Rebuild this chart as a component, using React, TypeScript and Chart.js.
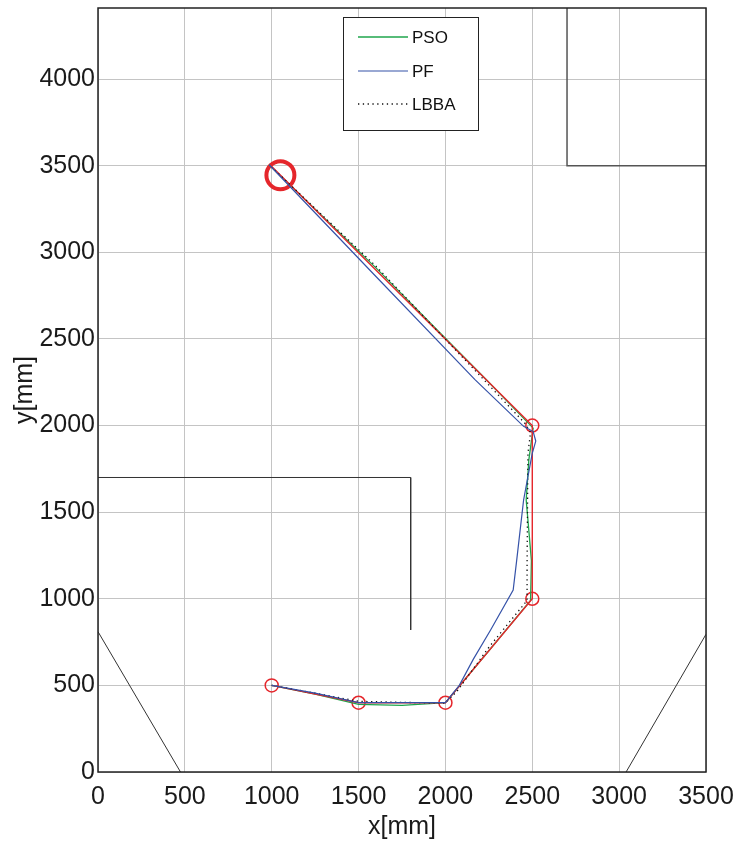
import React, { useEffect, useRef } from "react";
import { Chart, registerables } from "chart.js";

Chart.register(...registerables);

// Axis ticks
const xTicks = [0, 500, 1000, 1500, 2000, 2500, 3000, 3500];
const yTicks = [0, 500, 1000, 1500, 2000, 2500, 3000, 3500, 4000];
const X_MIN = 0;
const X_MAX = 3500;
const Y_MIN = 0;
const Y_MAX = 4410;

// Reference path (red) with waypoints
const refX = [1000, 1500, 2000, 2500, 2500, 990];
const refY = [500, 400, 400, 1000, 2000, 3505];
const waypointX = [1000, 1500, 2000, 2500, 2500];
const waypointY = [500, 400, 400, 1000, 2000];
const startX = [1050];
const startY = [3445];

// PSO (green)
const psoX = [1000, 1250, 1500, 1750, 2000, 2250, 2490, 2495, 2465, 2480, 2505, 2230, 1600, 985];
const psoY = [500, 450, 390, 385, 400, 700, 990, 1220, 1570, 1800, 1985, 2270, 2910, 3505];

// PF (blue)
const pfX = [1000, 1250, 1500, 1750, 2000, 2080, 2160, 2260, 2390, 2410, 2450, 2500, 2520, 2505, 2450, 2170, 1600, 985];
const pfY = [500, 455, 400, 400, 400, 500, 650, 820, 1050, 1220, 1570, 1840, 1910, 1965, 1995, 2265, 2860, 3505];

// LBBA (black dotted)
const lbbaX = [1000, 1250, 1500, 1750, 2000, 2070, 2250, 2470, 2470, 2475, 2490, 2460, 2230, 1600, 985];
const lbbaY = [500, 455, 408, 402, 398, 470, 720, 990, 1200, 1840, 1960, 2010, 2255, 2920, 3505];

// Obstacles / walls
const wallAX = [0, 1800, 1800];
const wallAY = [1700, 1700, 820];
const wallBX = [2700, 2700, 3500];
const wallBY = [4410, 3500, 3500];
const wallCX = [0, 475];
const wallCY = [810, 0];
const wallDX = [3040, 3500];
const wallDY = [0, 795];

// Legend order
const legendOrder = ["PSO", "PF", "LBBA"];

const pts = (xs: number[], ys: number[]) => xs.map((x, i) => ({ x, y: ys[i] }));

const FONT = "'Liberation Sans', Arial, Helvetica, sans-serif";

const GREEN = "#1fa64c";
const BLUE = "#3552a8";
const RED = "#e5262b";
const WALL = "#333333";

export default function App() {
  const ref = useRef<HTMLCanvasElement | null>(null);

  useEffect(() => {
    if (!ref.current) return;

    const boxPlugin = {
      id: "boxAndLegend",
      afterDraw(chart: any) {
        const { ctx, chartArea } = chart;
        ctx.save();
        ctx.strokeStyle = "#222";
        ctx.lineWidth = 1.5;
        ctx.strokeRect(chartArea.left, chartArea.top, chartArea.right - chartArea.left, chartArea.bottom - chartArea.top);

        // legend (positioned relative to the plot area)
        const lx = chartArea.left + 245;
        const ly = chartArea.top + 9;
        const lw = 135, lh = 113;
        ctx.fillStyle = "#fff";
        ctx.fillRect(lx, ly, lw, lh);
        ctx.strokeStyle = "#222";
        ctx.lineWidth = 1;
        ctx.strokeRect(lx + 0.5, ly + 0.5, lw, lh);
        const rows = [20, 54, 87];
        legendOrder.forEach((name, i) => {
          const d: any = chart.data.datasets.find((ds: any) => ds.label === name);
          if (!d) return;
          const y = ly + rows[i];
          ctx.beginPath();
          ctx.strokeStyle = d.borderColor;
          ctx.lineWidth = d.borderWidth;
          ctx.setLineDash(d.borderDash || []);
          ctx.moveTo(lx + 15, y);
          ctx.lineTo(lx + 65, y);
          ctx.stroke();
          ctx.setLineDash([]);
          ctx.fillStyle = "#111";
          ctx.font = `17px ${FONT}`;
          ctx.textBaseline = "middle";
          ctx.textAlign = "left";
          ctx.fillText(d.label, lx + 69, y + 1);
        });
        ctx.restore();
      },
    };

    const wall = (xs: number[], ys: number[], label: string, color = WALL, width = 1) => ({
      label,
      data: pts(xs, ys),
      showLine: true,
      borderColor: color,
      backgroundColor: color,
      borderWidth: width,
      pointRadius: 0,
      tension: 0,
    });

    const chart = new Chart(ref.current, {
      type: "scatter",
      data: {
        datasets: [
          wall(wallAX, wallAY, "wallA"),
          wall(wallBX, wallBY, "wallB", "#555", 1.5),
          wall(wallCX, wallCY, "wallC"),
          wall(wallDX, wallDY, "wallD"),
          {
            label: "PF",
            data: pts(pfX, pfY),
            showLine: true,
            borderColor: BLUE,
            backgroundColor: BLUE,
            borderWidth: 1.2,
            pointRadius: 0,
          },
          {
            label: "LBBA",
            data: pts(lbbaX, lbbaY),
            showLine: true,
            borderColor: "#111",
            backgroundColor: "#111",
            borderWidth: 1.3,
            borderDash: [1.3, 3.5],
            pointRadius: 0,
          },
          {
            label: "Reference",
            data: pts(refX, refY),
            showLine: true,
            borderColor: RED,
            backgroundColor: RED,
            borderWidth: 1.4,
            pointRadius: 0,
          },
          {
            label: "PSO",
            data: pts(psoX, psoY),
            showLine: true,
            borderColor: GREEN,
            backgroundColor: GREEN,
            borderWidth: 1.3,
            pointRadius: 0,
          },
          {
            label: "Waypoints",
            data: pts(waypointX, waypointY),
            showLine: false,
            borderColor: RED,
            backgroundColor: "rgba(0,0,0,0)",
            borderWidth: 1.5,
            pointRadius: 6.5,
            pointStyle: "circle",
          },
          {
            label: "Start",
            data: pts(startX, startY),
            showLine: false,
            borderColor: RED,
            backgroundColor: "rgba(0,0,0,0)",
            borderWidth: 4,
            pointRadius: 14,
            pointStyle: "circle",
          },
        ] as any,
      },
      options: {
        animation: false,
        responsive: false,
        devicePixelRatio: 1,
        layout: { padding: { top: 0, right: 34, left: 0, bottom: 0 } },
        plugins: {
          legend: { display: false },
          tooltip: { enabled: false },
        },
        scales: {
          x: {
            type: "linear",
            min: X_MIN,
            max: X_MAX,
            afterBuildTicks: (s: any) => {
              s.ticks = xTicks.map((v) => ({ value: v }));
            },
            afterFit: (s: any) => {
              s.height = 70;
              s.paddingLeft = 0;
              s.paddingRight = 0;
            },
            grid: { color: "#c4c4c4", lineWidth: 1, drawTicks: false },
            border: { display: false },
            ticks: {
              autoSkip: false,
              maxRotation: 0,
              padding: 10,
              color: "#1a1a1a",
              font: { family: FONT, size: 25 },
              callback: (v: any) => String(v),
            },
            title: {
              display: true,
              text: "x[mm]",
              color: "#1a1a1a",
              font: { family: FONT, size: 25 },
              padding: { top: 0, bottom: 0 },
            },
          },
          y: {
            type: "linear",
            min: Y_MIN,
            max: Y_MAX,
            afterBuildTicks: (s: any) => {
              s.ticks = yTicks.map((v) => ({ value: v }));
            },
            afterFit: (s: any) => {
              s.width = 98;
            },
            grid: { color: "#c4c4c4", lineWidth: 1, drawTicks: false },
            border: { display: false },
            ticks: {
              autoSkip: false,
              padding: 3,
              color: "#1a1a1a",
              font: { family: FONT, size: 25 },
              callback: (v: any) => String(v),
            },
            title: {
              display: true,
              text: "y[mm]",
              color: "#1a1a1a",
              font: { family: FONT, size: 25 },
              padding: { top: 10, bottom: 0 },
            },
          },
        },
      } as any,
      plugins: [boxPlugin],
    });

    return () => chart.destroy();
  }, []);

  return (
    <div style={{ position: "absolute", left: 0, top: -10, width: 740, height: 852, background: "#fff" }}>
      <canvas ref={ref} width={740} height={852} style={{ display: "block" }} />
    </div>
  );
}
